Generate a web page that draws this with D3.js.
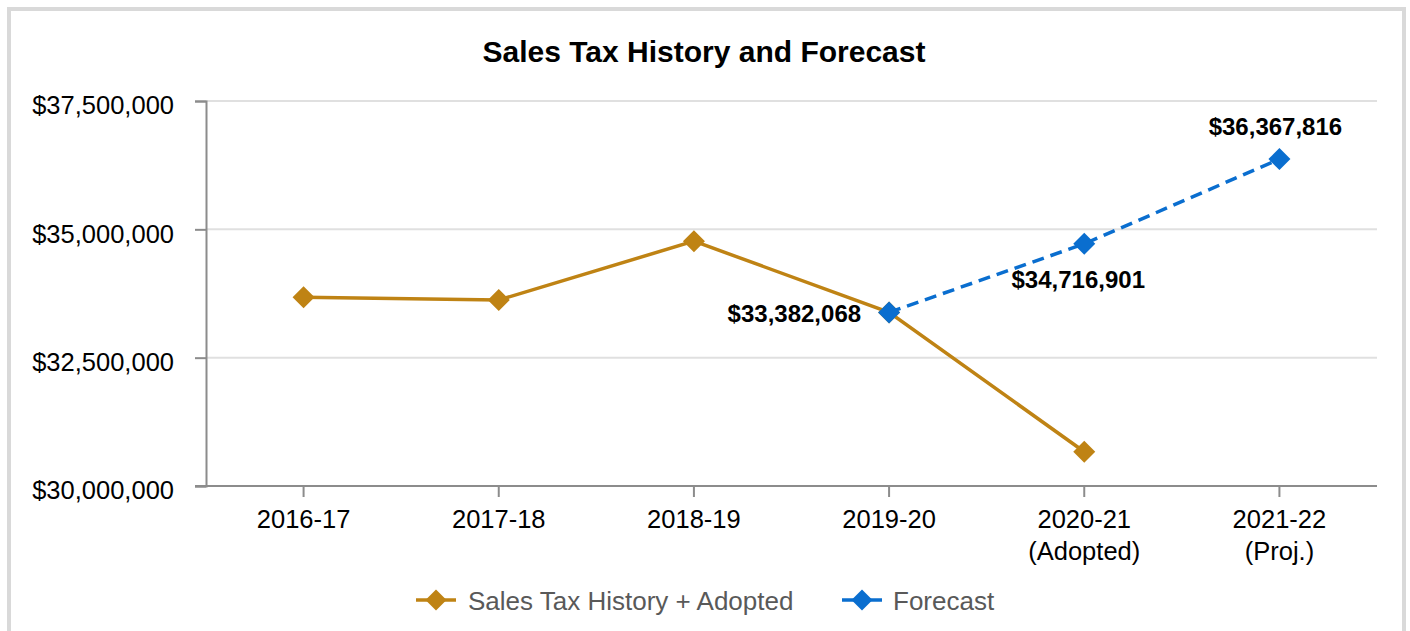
<!DOCTYPE html>
<html><head><meta charset="utf-8">
<script src="https://cdn.jsdelivr.net/npm/d3@7"></script>
<style>body{margin:0;background:#fff;}svg{display:block;font-family:"Liberation Sans",Arial,sans-serif;}</style>
</head><body>
<svg id="c" width="1410" height="631"></svg>
<script>
const categories = ["2016-17","2017-18","2018-19","2019-20","2020-21\n(Adopted)","2021-22\n(Proj.)"];
const historyValues = [33676000, 33623000, 34770000, 33382068, 30668000, null];
const forecastValues = [null, null, null, 33382068, 34716901, 36367816];
const yTicks = [30000000, 32500000, 35000000, 37500000];
const title = "Sales Tax History and Forecast";
const seriesNames = ["Sales Tax History + Adopted", "Forecast"];

const gold = "#BF8314", blue = "#0A6ECF";
const FF = "Liberation Sans, Arial, sans-serif";
const svg = d3.select("#c");
svg.append("rect").attr("x",9).attr("y",9).attr("width",1395).attr("height",640)
  .attr("fill","none").attr("stroke","#d9d9d9").attr("stroke-width",4);

const x = d3.scaleBand().domain(categories).range([206,1377]);
const y = d3.scaleLinear().domain([30000000,37500000]).range([486,101]);
const fmt = v => "$" + d3.format(",")(v);

svg.append("text").attr("x",704).attr("y",62).attr("text-anchor","middle")
  .attr("font-size",30).attr("font-weight","bold").text(title);

// gridlines
svg.append("g").selectAll("line").data(yTicks.slice(1)).join("line")
  .attr("x1",206).attr("x2",1377).attr("y1",d=>y(d)).attr("y2",d=>y(d))
  .attr("stroke","#e0e0e0").attr("stroke-width",2);

// y axis
const ya = svg.append("g").attr("transform","translate(206,0)")
  .call(d3.axisLeft(y).tickValues(yTicks).tickFormat(fmt).tickSize(11).tickPadding(21));
ya.select(".domain").attr("stroke","#8c8c8c").attr("stroke-width",2);
ya.selectAll(".tick line").attr("stroke","#8c8c8c").attr("stroke-width",2);
ya.selectAll("text").attr("font-size",25.5).attr("fill","#000").attr("font-family",FF).attr("dy","0.5em");

// x axis
const xa = svg.append("g").attr("transform","translate(0,486)")
  .call(d3.axisBottom(x).tickSize(11).tickSizeOuter(0).tickPadding(13));
xa.select(".domain").attr("d","M195,0H1377").attr("stroke","#8c8c8c").attr("stroke-width",2);
xa.selectAll(".tick line").attr("stroke","#8c8c8c").attr("stroke-width",2);
xa.selectAll(".tick text").each(function(d){
  const t = d3.select(this); const parts = d.split("\n");
  t.text(null).attr("font-size",25.5).attr("fill","#000").attr("font-family",FF);
  parts.forEach((p,i)=>t.append("tspan").attr("x",0).attr("dy", i===0? "0.71em":"1.25em").text(p));
});

const cx = c => x(c) + x.bandwidth()/2;
function diamondPath(cxv, cyv, r){ return `M${cxv},${cyv-r}L${cxv+r},${cyv}L${cxv},${cyv+r}L${cxv-r},${cyv}Z`; }

const line = d3.line().defined(d=>d.v!=null).x(d=>cx(d.c)).y(d=>y(d.v));
const hist = categories.map((c,i)=>({c, v:historyValues[i]}));
const fc = categories.map((c,i)=>({c, v:forecastValues[i]}));

svg.append("path").datum(hist).attr("d",line).attr("fill","none").attr("stroke",gold).attr("stroke-width",3.5);
svg.append("g").selectAll("path").data(hist.filter(d=>d.v!=null)).join("path")
  .attr("d",d=>diamondPath(cx(d.c),y(d.v),11)).attr("fill",gold);

svg.append("path").datum(fc).attr("d",line).attr("fill","none").attr("stroke",blue).attr("stroke-width",3.5)
  .attr("stroke-dasharray","12,7");
svg.append("g").selectAll("path").data(fc.filter(d=>d.v!=null)).join("path")
  .attr("d",d=>diamondPath(cx(d.c),y(d.v),11)).attr("fill",blue);

// data labels
const labelPos = [
  {i:3, dx:-28, dy:10, anchor:"end"},
  {i:4, dx:-6, dy:44, anchor:"middle"},
  {i:5, dx:-4, dy:-24, anchor:"middle"}
];
svg.append("g").selectAll("text").data(labelPos).join("text")
  .attr("x",d=>cx(categories[d.i])+d.dx).attr("y",d=>y(forecastValues[d.i])+d.dy)
  .attr("text-anchor",d=>d.anchor).attr("font-size",24).attr("font-weight","bold").attr("fill","#000")
  .text(d=>fmt(forecastValues[d.i]));

// legend
const leg = [{name:seriesNames[0], color:gold, x:416, tx:468},{name:seriesNames[1], color:blue, x:842, tx:893}];
const lg = svg.append("g").selectAll("g").data(leg).join("g");
lg.append("line").attr("x1",d=>d.x).attr("x2",d=>d.x+40).attr("y1",600).attr("y2",600)
  .attr("stroke",d=>d.color).attr("stroke-width",3.5);
lg.append("path").attr("d",d=>diamondPath(d.x+20,600,10.5)).attr("fill",d=>d.color);
lg.append("text").attr("x",d=>d.tx).attr("y",610).attr("font-size",26).attr("fill","#595959").text(d=>d.name);
</script>
</body></html>
